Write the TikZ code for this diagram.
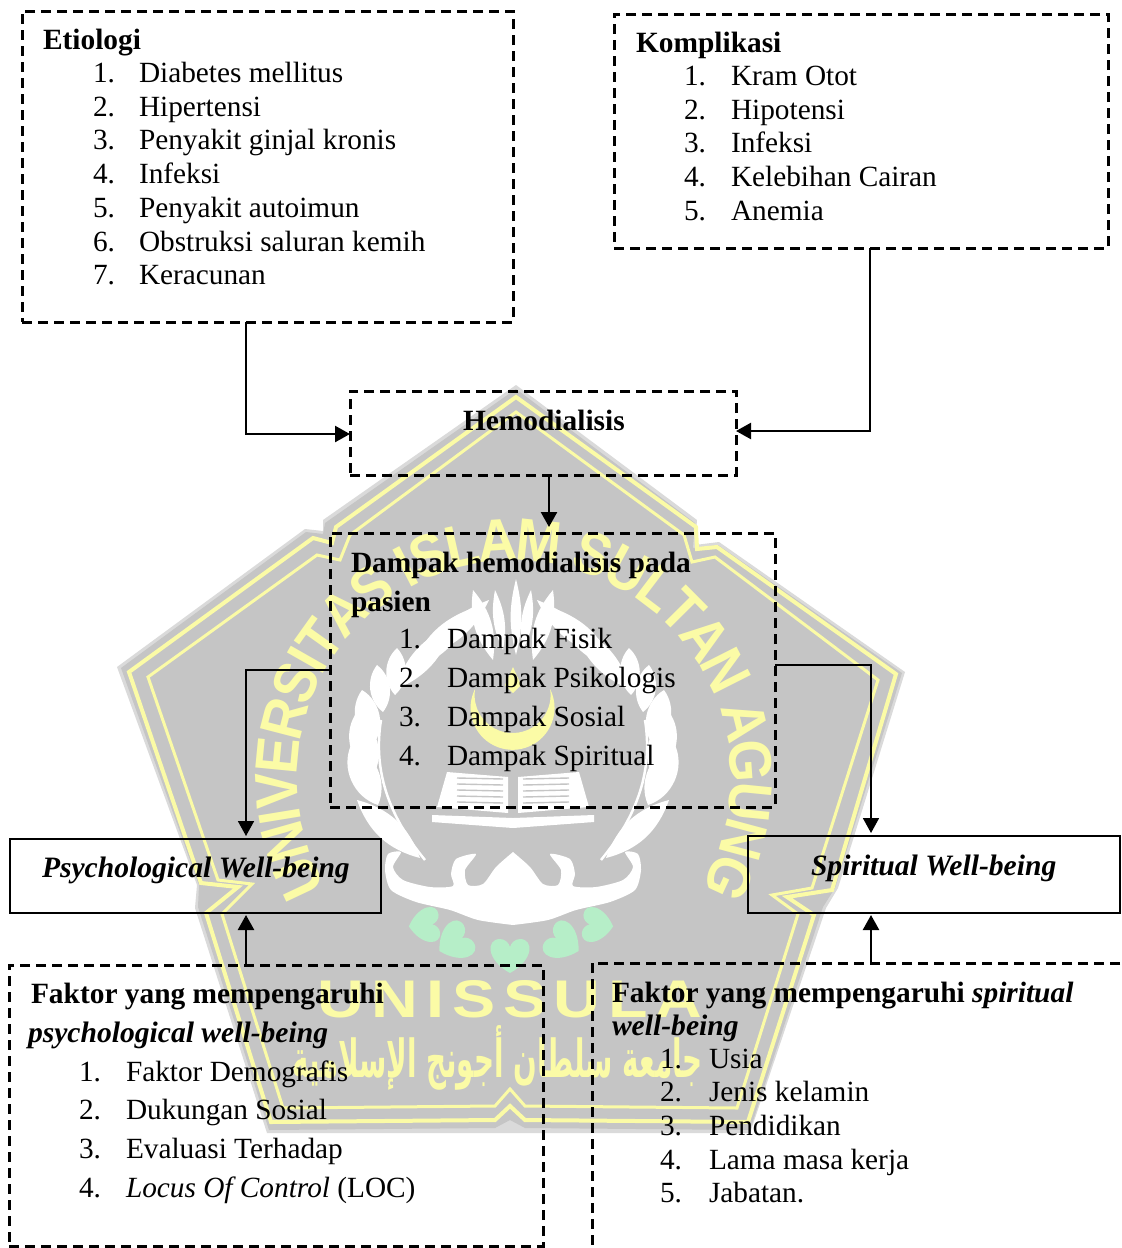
\documentclass[tikz,border=0pt]{standalone}
\usepackage{fontspec}
\usepackage{graphicx}
\usetikzlibrary{arrows.meta,decorations.text}
\setmainfont{Liberation Serif}
\newfontface\wmfont[FakeStretch=0.9]{Liberation Sans Bold}
\newfontface\wmwide[LetterSpace=12]{Liberation Sans Bold}
\newfontfamily\arabicfont[Script=Arabic]{DejaVu Sans}
\TeXXeTstate=1
\definecolor{wmgray}{HTML}{C5C5C5}
\definecolor{wmedge}{HTML}{DADADA}
\definecolor{wmyellow}{HTML}{FBFBA6}
\definecolor{wmgreen}{HTML}{B6EEC8}
\tikzset{
  txt/.style={anchor=base west,inner sep=0pt,outer sep=0pt,font=\fontsize{29.3}{33}\selectfont},
  txtb/.style={txt,font=\fontsize{29.4}{33}\selectfont\bfseries},
  txtbi/.style={txt,font=\fontsize{29.6}{33}\selectfont\bfseries\itshape},
  dashbox/.style={draw=black,line width=3pt,dash pattern=on 10pt off 6pt,anchor=north west,inner sep=0pt,outer sep=0pt},
  solidbox/.style={draw=black,line width=2.4pt,anchor=north west,inner sep=0pt,outer sep=0pt},
  conn/.style={draw=black,line width=2.4pt,-{Triangle[length=15pt,width=16pt]}},
  connthin/.style={conn,line width=1.7pt},
  wmline/.style={draw=wmyellow,line join=miter}
}
\newcommand{\itemlist}[6]{\foreach \t [count=\i, evaluate=\i as \yy using -(#4+(\i-1)*#5)] in {#6} {\node[txt] (#1n\i) at (#2,\yy) {\i.}; \node[txt] (#1t\i) at (#3,\yy) {\t};}}
\newcommand{\wmheart}[4]{\fill[wmgreen,shift={(#1,-#2)},rotate=#3,scale=#4] (0,-18) .. controls (-24,-5) and (-24,16) .. (-10,16) .. controls (-5,16) and (-1,12) .. (0,8) .. controls (1,12) and (5,16) .. (10,16) .. controls (24,16) and (24,-5) .. (0,-18) -- cycle;}
\begin{document}
\begin{tikzpicture}[x=1pt,y=1pt]
\clip (0,0) rectangle (1122,-1248);
\fill[white] (0,0) rectangle (1122,-1248);
% ---------- watermark ----------
\fill[wmedge] (516,-385) -- (323,-520) -- (323,-531) -- (305,-529) -- (117,-667) -- (197,-885) -- (195,-908) -- (267,-1133) -- (750,-1133) -- (826,-908) -- (838,-888) -- (905,-672) -- (719,-542) -- (695,-545) -- (697,-520) -- cycle;
\fill[wmgray] (516,-389) -- (325,-523) -- (323,-534) -- (306,-532) -- (121,-668) -- (199,-885) -- (198,-907) -- (269,-1130) -- (495,-1128) -- (510,-1120) -- (525,-1128) -- (750,-1130) -- (823,-907) -- (835,-888) -- (902,-673) -- (718,-545) -- (693,-548) -- (695,-523) -- cycle;
\draw[wmline,line width=4pt] (516,-397) -- (336,-527) -- (332,-543) -- (313,-538) -- (129,-672) -- (201,-883) -- (238,-887) -- (206,-913) -- (271,-1122) -- (495,-1120) -- (510,-1106) -- (525,-1120) -- (748,-1122) -- (814,-915) -- (787,-897) -- (832,-890) -- (896,-674) -- (717,-547) -- (697,-549) -- (696,-527) -- cycle;
\draw[wmline,line width=3pt] (516,-412) -- (350,-535) -- (340,-560) -- (317,-555) -- (148,-677) -- (218,-880) -- (252,-884) -- (222,-914) -- (283,-1108) -- (495,-1106) -- (510,-1089) -- (525,-1106) -- (737,-1108) -- (798,-914) -- (772,-895) -- (812,-888) -- (878,-680) -- (715,-557) -- (692,-562) -- (684,-535) -- cycle;
\path[postaction={decorate},decoration={text along path,text align=center,raise=-21pt,text={|\wmfont\fontsize{60}{64}\selectfont\color{wmyellow}|UNIVERSITAS ISLAM SULTAN AGUNG}}]
  (514,-778) ++(212:238) arc[start angle=212,end angle=-32,radius=238];
% wreath, mirrored about the centre line
\foreach \s in {1,-1}{
\begin{scope}[shift={(513,0)},xscale=\s]
  \draw[white,line width=2.5pt] (-88,-860) .. controls (-125,-815) and (-140,-770) .. (-132,-720);
  \foreach \bx/\by/\tx/\ty/\bd in {-93/-858/-156/-800/28,-135/-805/-162/-745/48,-140/-775/-158/-715/48,-140/-745/-151/-690/48,-130/-712/-136/-665/45,-118/-695/-116/-648/45,-118/-690/-60/-625/25,-102/-670/-40/-608/25,-84/-655/-24/-600/22,-20/-660/-40/-590/24,-10/-650/-18/-590/18}{
    \fill[white] (\bx,\by) to[bend left=\bd] (\tx,\ty) to[bend left=\bd] (\bx,\by);
  }
  % book
  \fill[white] (-5,-777) -- (-66,-772) -- (-76,-807) -- (-5,-813) -- cycle;
  \fill[white] (0,-828) -- (-81,-822) -- (-81,-815) -- (0,-818) -- cycle;
  \foreach \yy in {778,784,790,796,802}{\draw[wmgray,line width=1.4pt] (-10,-\yy-1) -- (-56,-\yy);}
  % moustache
  \begin{scope}[shift={(0,-852)}]
  \fill[white] plot[smooth,tension=.45] coordinates {(0,0) (-17,-15) (-30,-32) (-45,-33) (-48,-18) (-37,-2) (-57,-7) (-62,-22) (-60,-34) (-83,-35) (-110,-28) (-120,-15) (-112,0) (-125,-2) (-128,-18) (-122,-38) (-97,-50) (-63,-58) (-35,-68) (0,-73)} -- cycle;
  \end{scope}
\end{scope}}
\fill[white] (516,-579) to[bend left=14] (516,-655) to[bend left=14] (516,-579);
% crescent and flame
\fill[wmyellow] (475,-689) arc[start angle=153.4,end angle=386.6,radius=42] arc[start angle=9.1,end angle=-189.1,radius=38] -- cycle;
\fill[wmyellow] (513,-667) -- (521,-685) -- (513,-693) -- (505,-685) -- cycle;
% leaves
\wmheart{425}{925}{-85}{0.9}
\wmheart{455}{942}{-60}{1.0}
\wmheart{510}{955}{0}{1.0}
\wmheart{563}{942}{60}{1.0}
\wmheart{597}{925}{85}{0.9}
\node[text=wmyellow,inner sep=0pt,font=\wmwide\fontsize{53}{56}\selectfont,xscale=1.22] (wmname) at (510,-999) {UNISSULA};
\node[text=wmyellow,inner sep=0pt] (wmarabic) at (498,-1058) {\resizebox{410pt}{52pt}{\arabicfont\bfseries\beginR جامعة سلطان أجونج الإسلامية\endR}};
% ---------- boxes ----------
\node[dashbox,minimum width=491pt,minimum height=311pt] (eti) at (22,-11) {};
\node[dashbox,minimum width=494pt,minimum height=234pt] (kom) at (614,-14) {};
\node[dashbox,minimum width=386pt,minimum height=84pt] (hemo) at (350,-391) {};
\node[dashbox,minimum width=445pt,minimum height=274pt] (dampak) at (330,-533) {};
\node[solidbox,minimum width=371pt,minimum height=74pt] (psy) at (10,-839) {};
\node[solidbox,minimum width=372pt,minimum height=77pt] (spi) at (748,-836) {};
\node[dashbox,minimum width=534pt,minimum height=281pt] (fpsy) at (9,-965) {};
\node[dashbox,minimum width=560pt,minimum height=320pt] (fspi) at (592,-963) {};
% ---------- texts ----------
\node[txtb] (etit) at (43,-49) {Etiologi};
\itemlist{e}{93}{139}{82.5}{33.7}{Diabetes mellitus,Hipertensi,Penyakit ginjal kronis,Infeksi,Penyakit autoimun,Obstruksi saluran kemih,Keracunan}
\node[txtb] (komt) at (636,-52) {Komplikasi};
\itemlist{k}{684}{731}{85.5}{33.7}{Kram Otot,Hipotensi,Infeksi,Kelebihan Cairan,Anemia}
\node[txtb] (hemot) at (463,-430) {Hemodialisis};
\node[txtb] (dat1) at (351,-572) {Dampak hemodialisis pada};
\node[txtb] (dat2) at (351,-611) {pasien};
\itemlist{d}{399}{447}{648}{39}{Dampak Fisik,Dampak Psikologis,Dampak Sosial,Dampak Spiritual}
\node[txtbi] (psyt) at (42,-877) {Psychological Well-being};
\node[txtbi] (spit) at (811,-875) {Spiritual Well-being};
\node[txtb] (fp1) at (31,-1003) {Faktor yang mempengaruhi};
\node[txtbi] (fp2) at (28,-1042) {psychological well-being};
\itemlist{p}{79}{126}{1081}{38.7}{Faktor Demografis,Dukungan Sosial,Evaluasi Terhadap,{\textit{Locus Of Control} (LOC)}}
\node[txtb] (fs1) at (612,-1002) {Faktor yang mempengaruhi \textit{spiritual}};
\node[txtbi] (fs2) at (612,-1035) {well-being};
\itemlist{s}{660}{709}{1068}{33.7}{Usia,Jenis kelamin,Pendidikan,Lama masa kerja,Jabatan.}
% ---------- connectors ----------
\coordinate (ce) at (246,-434);
\coordinate (ck) at (870,-431);
\coordinate (cdl) at (246,-670);
\coordinate (cdr) at (871,-665);
\coordinate (chd) at (549,-500);
\draw[conn] (ce |- eti.south) |- (ce -| hemo.west);
\draw[conn] (ck |- kom.south) |- (ck -| hemo.east);
\draw[conn] (chd |- hemo.south) -- ([yshift=6pt]chd |- dampak.north);
\draw[connthin] (cdl -| dampak.west) -| ([yshift=3pt]cdl |- psy.north);
\draw[connthin] (cdr -| dampak.east) -| ([yshift=3pt]cdr |- spi.north);
\draw[conn] (cdl |- fpsy.north) -- ([yshift=-2pt]cdl |- psy.south);
\draw[conn] (cdr |- fspi.north) -- ([yshift=-2pt]cdr |- spi.south);
\end{tikzpicture}
\end{document}
